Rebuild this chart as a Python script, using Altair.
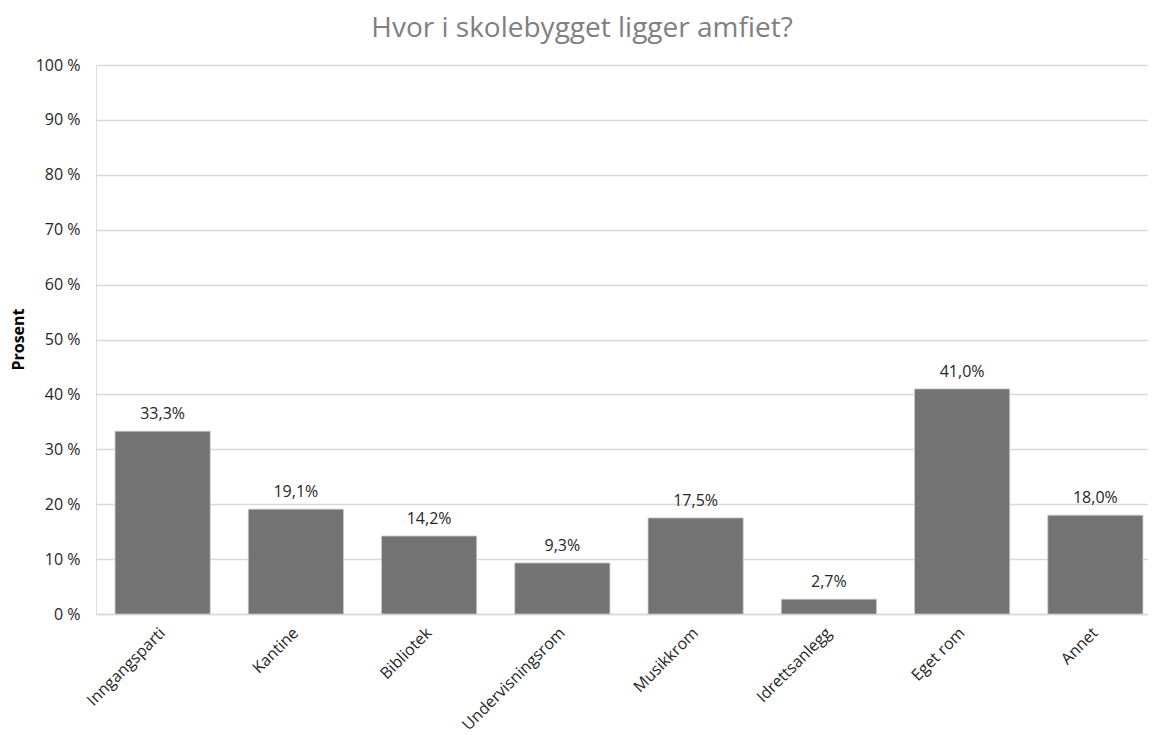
import altair as alt
import pandas as pd

categories = ["Inngangsparti", "Kantine", "Bibliotek", "Undervisningsrom",
              "Musikkrom", "Idrettsanlegg", "Eget rom", "Annet"]
values = [33.3, 19.1, 14.2, 9.3, 17.5, 2.7, 41.0, 18.0]

df = pd.DataFrame({"kategori": categories, "prosent": values})

FONT = "Open Sans"

base = alt.Chart(df).transform_calculate(
    lab="replace(format(datum.prosent, '.1f'), '.', ',') + '%'"
)

x_enc = alt.X(
    "kategori:N",
    sort=categories,
    scale=alt.Scale(paddingInner=0.286, paddingOuter=0.143, range=[0, 1066]),
    axis=alt.Axis(
        title=None,
        labelAngle=-45,
        labelAlign="right",
        labelBaseline="middle",
        labelFont=FONT,
        labelFontSize=16,
        labelColor="#262626",
        labelPadding=16,
        labelLimit=300,
        ticks=False,
        domain=True,
        domainColor="#d9d9d9",
        domainWidth=1.5,
        grid=False,
    ),
)

y_enc = alt.Y(
    "prosent:Q",
    scale=alt.Scale(domain=[0, 100], nice=False),
    axis=alt.Axis(
        title="Prosent",
        titleFont=FONT,
        titleFontSize=16,
        titleFontWeight="bold",
        titleColor="#000000",
        titleAngle=-90,
        titleX=-78,
        titleY=274,
        titleAlign="center",
        titleBaseline="middle",
        values=list(range(0, 101, 10)),
        labelExpr="datum.value + ' %'",
        labelFont=FONT,
        labelFontSize=16,
        labelColor="#262626",
        labelPadding=16,
        ticks=False,
        domain=False,
        grid=True,
        gridColor="#d9d9d9",
        gridWidth=1.5,
    ),
)

bars = base.mark_bar(color="#737373", stroke="#c8c8c8", strokeWidth=0.8).encode(
    x=x_enc, y=y_enc
)

labels = base.mark_text(
    font=FONT, fontSize=16, color="#262626", baseline="bottom", dy=-9
).encode(
    x=alt.X("kategori:N", sort=categories),
    y=alt.Y("prosent:Q"),
    text="lab:N",
)

chart = (
    alt.layer(bars, labels)
    .properties(
        width=1052,
        height=549,
        title=alt.TitleParams(
            "Hvor i skolebygget ligger amfiet?",
            font=FONT,
            fontSize=28,
            fontWeight="normal",
            color="#808080",
            anchor="middle",
            dx=-40,
            offset=14,
        ),
        autosize=alt.AutoSizeParams(type="none"),
        padding={"left": 88, "top": 57, "right": 0, "bottom": 120},
    )
    .configure_view(stroke=None)
    .configure(background="#ffffff")
)

chart.save("out.html", embed_options={"renderer": "svg", "actions": False})
